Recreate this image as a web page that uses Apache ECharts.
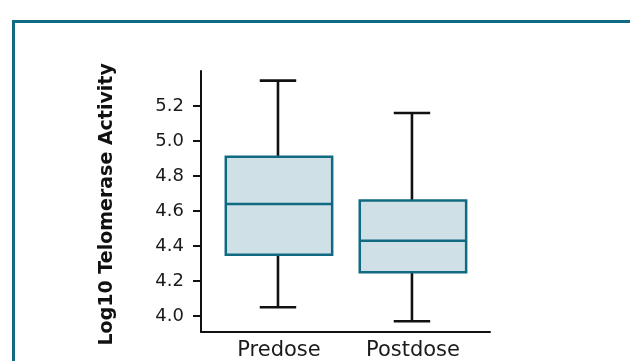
<!DOCTYPE html>
<html>
<head>
<meta charset="utf-8">
<script src="https://cdn.jsdelivr.net/npm/echarts@6/dist/echarts.min.js"></script>
<style>
html,body{margin:0;padding:0;background:#fff;}
#chart{width:630px;height:361px;}
</style>
</head>
<body>
<div id="chart"></div>
<script>
const categories = ['Predose', 'Postdose'];
const lowerWhisker = [4.05, 3.97];
const q1 = [4.35, 4.25];
const median = [4.64, 4.43];
const q3 = [4.91, 4.66];
const upperWhisker = [5.345, 5.16];
const yTicks = [4.0, 4.2, 4.4, 4.6, 4.8, 5.0, 5.2];
const yTitle = 'Log10 Telomerase Activity';

const TEAL = '#106a82';
const FILL = '#cfe0e6';

const data = categories.map((c, i) => [i, lowerWhisker[i], q1[i], median[i], q3[i], upperWhisker[i]]);

const chart = echarts.init(document.getElementById('chart'), null, {renderer: 'canvas'});
chart.setOption({
  animation: false,
  backgroundColor: '#ffffff',
  graphic: [{
    type: 'rect',
    shape: {x: 13.5, y: 21.5, width: 700, height: 400},
    style: {fill: 'none', stroke: TEAL, lineWidth: 3},
    silent: true, z: 0
  }],
  grid: {left: 201, right: 140, top: 71, bottom: 29.3, containLabel: false},
  xAxis: {
    type: 'value', min: -0.582, max: 1.575,
    axisLine: {show: true, onZero: false, lineStyle: {color: '#111', width: 2}},
    axisTick: {show: false},
    splitLine: {show: false},
    axisLabel: {
      customValues: categories.map((c, i) => i),
      formatter: v => categories[Math.round(v)],
      margin: 8,
      color: '#1a1a1a', fontFamily: 'DejaVu Sans', fontSize: 21
    }
  },
  yAxis: {
    type: 'value', min: 3.91, max: 5.40,
    name: yTitle, nameLocation: 'middle', nameGap: 84,
    nameTextStyle: {fontFamily: 'DejaVu Sans', fontWeight: 'bold', fontSize: 19, color: '#111', padding: [0, 6, 0, 0]},
    axisLine: {show: true, onZero: false, lineStyle: {color: '#111', width: 2}},
    axisTick: {show: true, inside: false, length: 8, customValues: yTicks, lineStyle: {color: '#111', width: 2}},
    splitLine: {show: false},
    axisLabel: {
      customValues: yTicks,
      formatter: v => Number(v).toFixed(1),
      margin: 17,
      color: '#1a1a1a', fontFamily: 'DejaVu Sans', fontSize: 18
    }
  },
  series: [{
    type: 'custom',
    data: data,
    encode: {x: 0, y: [1, 2, 3, 4, 5]},
    renderItem: function (params, api) {
      const x = api.value(0);
      const pLow = api.coord([x, api.value(1)]);
      const pQ1 = api.coord([x, api.value(2)]);
      const pMed = api.coord([x, api.value(3)]);
      const pQ3 = api.coord([x, api.value(4)]);
      const pHigh = api.coord([x, api.value(5)]);
      const unit = api.size([1, 0])[0];
      const hb = unit * 0.397;
      const hc = unit * 0.136;
      const cx = pMed[0];
      const wStyle = {stroke: '#111', lineWidth: 2.6};
      return {
        type: 'group',
        children: [
          {type: 'line', shape: {x1: cx - 1, y1: pQ3[1], x2: cx - 1, y2: pHigh[1]}, style: wStyle},
          {type: 'line', shape: {x1: cx - 1 - hc, y1: pHigh[1], x2: cx - 1 + hc, y2: pHigh[1]}, style: wStyle},
          {type: 'line', shape: {x1: cx - 1, y1: pQ1[1], x2: cx - 1, y2: pLow[1]}, style: wStyle},
          {type: 'line', shape: {x1: cx - 1 - hc, y1: pLow[1], x2: cx - 1 + hc, y2: pLow[1]}, style: wStyle},
          {type: 'rect', shape: {x: cx - hb, y: pQ3[1], width: hb * 2, height: pQ1[1] - pQ3[1]},
           style: {fill: FILL, stroke: TEAL, lineWidth: 2.5}},
          {type: 'line', shape: {x1: cx - hb, y1: pMed[1], x2: cx + hb, y2: pMed[1]},
           style: {stroke: TEAL, lineWidth: 2.5}}
        ]
      };
    }
  }]
});
</script>
</body>
</html>
